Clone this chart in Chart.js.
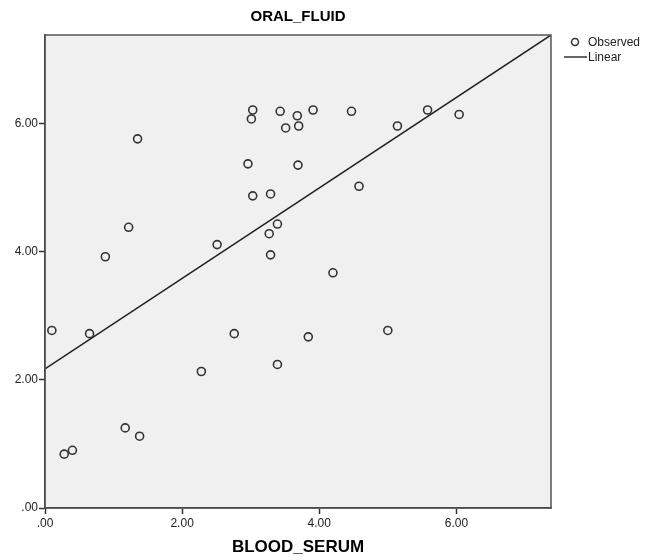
<!DOCTYPE html>
<html>
<head>
<meta charset="utf-8">
<script src="https://cdn.jsdelivr.net/npm/chart.js@4.4.1/dist/chart.umd.min.js"></script>
<style>
  html, body { margin: 0; padding: 0; background: #fff; }
  #wrap { width: 661px; height: 560px; }
</style>
</head>
<body>
<div id="wrap"><canvas id="chart" width="661" height="560"></canvas></div>
<script>
const bloodSerum = [0.10, 0.28, 0.40, 0.65, 0.88, 1.17, 1.22, 1.35, 1.38, 2.28,
  2.51, 2.76, 2.96, 3.01, 3.03, 3.03, 3.27, 3.29, 3.29, 3.39,
  3.39, 3.43, 3.51, 3.68, 3.70, 3.69, 3.84, 3.91, 4.20, 4.47,
  4.58, 5.00, 5.14, 5.58, 6.04];
const oralFluid = [2.77, 0.84, 0.90, 2.72, 3.92, 1.25, 4.38, 5.76, 1.12, 2.13,
  4.11, 2.72, 5.37, 6.07, 6.21, 4.87, 4.28, 4.90, 3.95, 4.43,
  2.24, 6.19, 5.93, 6.12, 5.96, 5.35, 2.67, 6.21, 3.67, 6.19,
  5.02, 2.77, 5.96, 6.21, 6.14];

// fitted line end points (left edge and top right corner)
const linearX = [0, 7.38];
const linearY = [2.17, 7.38];

const tickVals = [0, 2, 4, 6];
const axisMax = 7.38;

function fmt(v) {
  return v.toFixed(2).replace(/^0\./, '.');
}

const observed = bloodSerum.map((x, i) => ({ x, y: oralFluid[i] }));
const linear = linearX.map((x, i) => ({ x, y: linearY[i] }));

// grey plot background, frame and legend in SPSS look
const spssLook = {
  id: 'spssLook',
  beforeDraw(c) {
    const a = c.chartArea;
    const ctx = c.ctx;
    ctx.save();
    ctx.fillStyle = '#f0f0f0';
    ctx.fillRect(a.left, a.top, a.right - a.left, a.bottom - a.top);
    ctx.restore();
  },
  afterDraw(c) {
    const a = c.chartArea;
    const ctx = c.ctx;
    ctx.save();
    ctx.strokeStyle = '#555';
    ctx.lineWidth = 1.5;
    ctx.strokeRect(a.left, a.top, a.right - a.left, a.bottom - a.top);

    // legend
    ctx.font = '12px Arial, "Liberation Sans", sans-serif';
    ctx.fillStyle = '#222';
    ctx.textBaseline = 'middle';
    ctx.strokeStyle = '#333';
    ctx.lineWidth = 1.5;
    ctx.beginPath();
    ctx.arc(575, 42, 3.5, 0, Math.PI * 2);
    ctx.stroke();
    ctx.fillText('Observed', 588, 43);
    ctx.beginPath();
    ctx.moveTo(564, 57);
    ctx.lineTo(587, 57);
    ctx.stroke();
    ctx.fillText('Linear', 588, 58);
    ctx.restore();
  }
};

const tickFont = { family: '"Liberation Sans Narrow", Arial, sans-serif', size: 12 };

new Chart(document.getElementById('chart'), {
  type: 'scatter',
  data: {
    datasets: [
      {
        label: 'Observed',
        data: observed,
        pointRadius: 4,
        pointHoverRadius: 4,
        borderWidth: 1.6,
        borderColor: '#333',
        backgroundColor: 'rgba(0,0,0,0)'
      },
      {
        label: 'Linear',
        type: 'line',
        data: linear,
        borderColor: '#222',
        borderWidth: 1.5,
        pointRadius: 0,
        fill: false
      }
    ]
  },
  plugins: [spssLook],
  options: {
    responsive: false,
    animation: false,
    layout: { padding: { left: 0, right: 110, top: 0, bottom: 0 } },
    plugins: {
      legend: { display: false },
      tooltip: { enabled: false },
      title: {
        display: true,
        text: 'ORAL_FLUID',
        fullSize: false,
        color: '#000',
        font: { family: 'Arial, "Liberation Sans", sans-serif', size: 15, weight: 'bold' },
        padding: { top: 8, bottom: 9 }
      }
    },
    scales: {
      x: {
        type: 'linear',
        min: 0,
        max: axisMax,
        afterBuildTicks: s => { s.ticks = tickVals.map(v => ({ value: v })); },
        afterFit: s => { s.height = 52; },
        grid: { drawOnChartArea: false, drawTicks: true, tickLength: 6, color: '#333', tickWidth: 1.5 },
        border: { display: true, color: '#333', width: 1.5 },
        ticks: { color: '#222', font: tickFont, padding: 2, callback: v => fmt(v) },
        title: {
          display: true,
          text: 'BLOOD_SERUM',
          color: '#000',
          font: { family: 'Arial, "Liberation Sans", sans-serif', size: 17, weight: 'bold' },
          padding: { top: 0, bottom: 2 }
        }
      },
      y: {
        type: 'linear',
        min: 0,
        max: axisMax,
        afterBuildTicks: s => { s.ticks = tickVals.map(v => ({ value: v })); },
        afterFit: s => { s.width = 45; },
        grid: { drawOnChartArea: false, drawTicks: true, tickLength: 6, color: '#333', tickWidth: 1.5 },
        border: { display: true, color: '#333', width: 1.5 },
        ticks: { color: '#222', font: tickFont, padding: 1, callback: v => fmt(v) }
      }
    }
  }
});
</script>
</body>
</html>
